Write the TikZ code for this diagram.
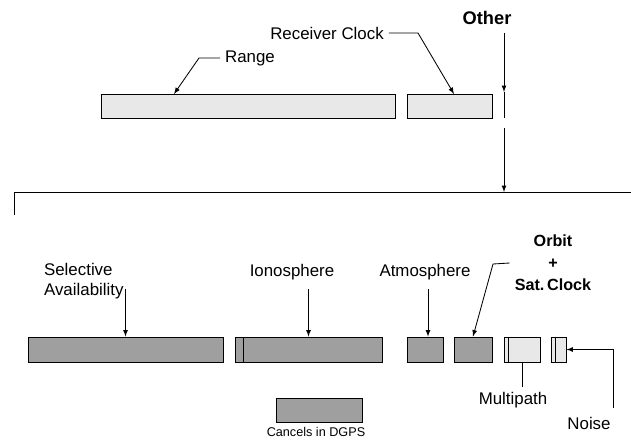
\documentclass[tikz,border=0pt]{standalone}
\usepackage{fontspec}
\setmainfont{Liberation Sans}
\usepackage{tikz}
\usetikzlibrary{arrows}
\tikzset{l/.style={font=\fontsize{12}{14}\selectfont}}
\tikzset{s/.style={font=\fontsize{9}{9}\selectfont}}
\tikzset{bf/.style={font=\fontsize{13}{15}\selectfont\bfseries}}
\tikzset{dk/.style={draw,fill=gray!75,minimum height=0.625cm,inner sep=0pt}}
\tikzset{lt/.style={draw,fill=gray!18,minimum height=0.6cm,inner sep=0pt}}
\tikzset{arr/.style={-latex}}

\begin{document}
\begin{tikzpicture}[x=0.025cm,y=-0.025cm,line width=0.6pt]
          \useasboundingbox (0,0) rectangle (631,440);
          % total range error
          \node[lt,minimum width=7.35cm] (range) at (248,106) {};
          \node[lt,minimum width=2.125cm] (rclock) at (449.5,106) {};
          \node[l] (rangelbl) at (250,58) {Range};
          \node[l] (rclocklbl) at (327,33) {Receiver Clock};
          \node[bf] (other) at (487,18) {Other};
          \coordinate (rangetip) at (174,94);
          \coordinate (rclocktip) at (454,94);
          \draw[arr] (rangelbl.west) -- (199,58) -- (rangetip);
          \draw[arr] (rclocklbl.east) -- (418,33) -- (rclocktip);
          \coordinate (otop) at (504,33);
          \coordinate (oarr) at (504,92);
          \coordinate (obot) at (504,118);
          \coordinate (olow) at (504,128);
          \coordinate (hl) at (14,192);
          \coordinate (hr) at (631,192);
          \draw[arr] (otop) -- (oarr);
          \draw (oarr) -- (obot);
          \draw (14,215) -- (hl) -- (hr);
          \draw[arr] (olow) -- (otop |- hl);
          % error sources
          \node[dk,minimum width=4.875cm] (sa) at (125.5,349.5) {};
          \node[dk,minimum width=3.675cm] (iono) at (308.5,349.5) {};
          \node[dk,minimum width=0.9cm] (atmos) at (425,349.5) {};
          \node[dk,minimum width=0.95cm] (orbit) at (473,349.5) {};
          \node[lt,minimum width=0.9cm,minimum height=0.625cm] (multi) at (522,349.5) {};
          \node[lt,minimum width=0.375cm,minimum height=0.625cm] (noise) at (558.5,349.5) {};
          \draw[line width=1pt] ([xshift=0.225cm]iono.north west) -- ([xshift=0.225cm]iono.south west);
          \draw ([xshift=0.125cm]multi.north west) -- ([xshift=0.125cm]multi.south west);
          \draw ([xshift=0.125cm]noise.north west) -- ([xshift=0.125cm]noise.south west);
          \node[l,align=left,anchor=west] (salbl) at (39,281) {Selective\\Availability};
          \node[l] (ionolbl) at (292,272) {Ionosphere};
          \node[l] (atmoslbl) at (425,272) {Atmosphere};
          \node[bf,font=\fontsize{11.5}{15.5}\selectfont\bfseries,align=center] (orbitlbl) at (553,263) {Orbit\\+\\Sat.\,Clock};
          \node[l] (multilbl) at (513,400) {Multipath};
          \node[l] (noiselbl) at (589,423) {Noise};
          \coordinate (satop) at (125.5,289);
          \coordinate (ionotop) at (308.5,289);
          \coordinate (atmostop) at (428,289);
          \coordinate (nbot) at (613,408);
          \draw[arr] (satop) -- (sa.north);
          \draw[arr] (ionotop) -- (iono.north);
          \draw[arr] (atmostop) -- (atmostop |- atmos.north);
          \draw[arr] (orbitlbl.west) -- (493,264) -- (orbit.north);
          \draw (multi.south) -- (multi.south |- multilbl.north);
          \draw[arr] (nbot) |- (noise.east);
          % key
          \node[dk,minimum width=2.15cm,minimum height=0.6cm] (key) at (319,410) {};
          \node[s] (keylbl) at (316,432) {Cancels in DGPS};
        \end{tikzpicture}
\end{document}
